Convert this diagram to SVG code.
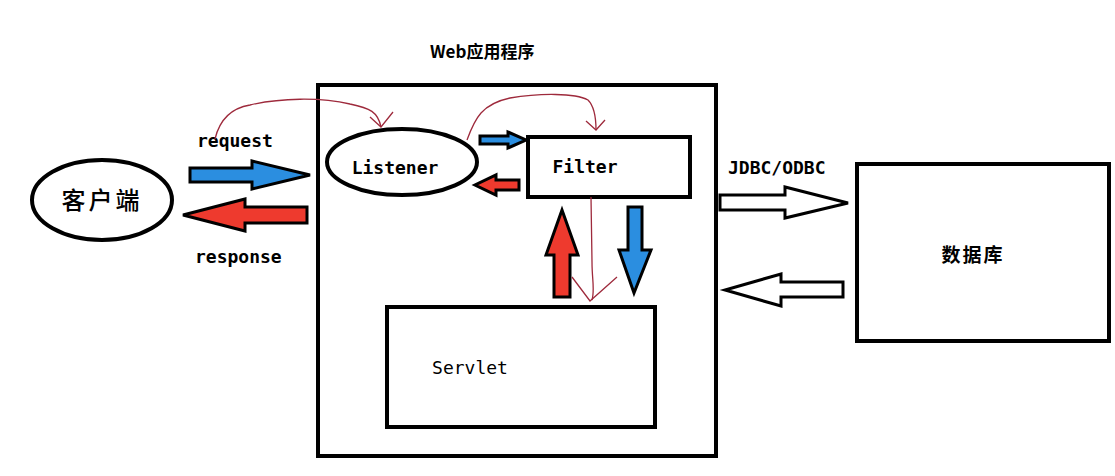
<svg xmlns="http://www.w3.org/2000/svg" width="1115" height="476" viewBox="0 0 1115 476">
<style>
.box{fill:#fff;stroke:#000;stroke-width:4}
.lbl{font-family:"DejaVu Sans Mono","Liberation Mono",monospace;font-weight:bold;font-size:18px;fill:#000}
.lbl.thin{font-weight:normal}
.cjk{font-family:"Noto Sans CJK SC",sans-serif;fill:#000}
.arr{stroke:#000;stroke-width:3;stroke-linejoin:miter}
.blue{fill:#2b8ee0}
.red{fill:#ee3a2e}
.white{fill:#fff}
.curve{fill:none;stroke:#9e2a3c;stroke-width:1.3}
</style>
<rect width="1115" height="476" fill="#fff"/>
<text class="cjk" x="430" y="58" font-size="17" font-weight="bold">Web应用程序</text>
<g id="webapp"><rect class="box" x="318" y="85" width="398" height="371"/></g>
<g id="client">
<ellipse class="box" cx="102" cy="200" rx="70" ry="40" stroke-width="3.5"/>
<text class="cjk" x="102" y="209" font-size="24" font-weight="500" text-anchor="middle" letter-spacing="3">客户端</text>
</g>
<g id="listener">
<ellipse class="box" cx="402" cy="162" rx="75" ry="33" stroke-width="3.5"/>
<text class="lbl" x="395" y="174" text-anchor="middle">Listener</text>
</g>
<g id="filter">
<rect class="box" x="528" y="137" width="162" height="60" stroke-width="3.5"/>
<text class="lbl" x="585" y="173" text-anchor="middle">Filter</text>
</g>
<g id="servlet">
<rect class="box" x="387" y="307" width="268" height="120" stroke-width="3.5"/>
<text class="lbl thin" x="470" y="374" text-anchor="middle">Servlet</text>
</g>
<g id="database">
<rect class="box" x="857" y="164" width="252" height="177" stroke-width="3.5"/>
<text class="cjk" x="973" y="262" font-size="19" font-weight="bold" text-anchor="middle" letter-spacing="2">数据库</text>
</g>
<g id="labels">
<text class="lbl" x="197" y="147">request</text>
<text class="lbl" x="195" y="263">response</text>
<text class="lbl" x="728" y="174">JDBC/ODBC</text>
</g>
<g id="connectors">
<polygon class="arr blue" points="190,168 252,168 252,161 310,175 252,189 252,182 190,182"/>
<polygon class="arr red" points="307,207 245,207 245,199 183,215 245,231 245,223 307,223"/>
<polygon class="arr blue" points="480,136 508,136 508,132 526,140 508,148 508,144 480,144"/>
<polygon class="arr red" points="519,180 496,180 496,175 475,185 496,195 496,190 519,190"/>
<polygon class="arr red" points="554,297 554,255 546,255 562,210 578,255 570,255 570,297"/>
<polygon class="arr blue" points="628,207 642,207 642,250 651,250 634,293 619,250 628,250"/>
<polygon class="arr white" points="720,195 785,195 785,187 848,203 785,218 785,210 720,210"/>
<polygon class="arr white" points="843,282 781,282 781,274 725,290 781,306 781,297 843,297"/>
<path class="curve" d="M215,139 C220,118 232,108 250,105 C280,98 320,97 350,104 C370,108 378,112 381,127"/>
<path class="curve" d="M370,117 L381,127 L393,112"/>
<path class="curve" d="M467,140 C475,118 482,104 510,98 C540,93 575,93 588,100 C594,106 596,118 596,130"/>
<path class="curve" d="M586,121 L596,130 L605,120"/>
<path class="curve" d="M591,197 L592,262 C592,280 595,290 592,300"/>
<path class="curve" d="M572,277 L590,301 L617,277"/>
</g>
</svg>
